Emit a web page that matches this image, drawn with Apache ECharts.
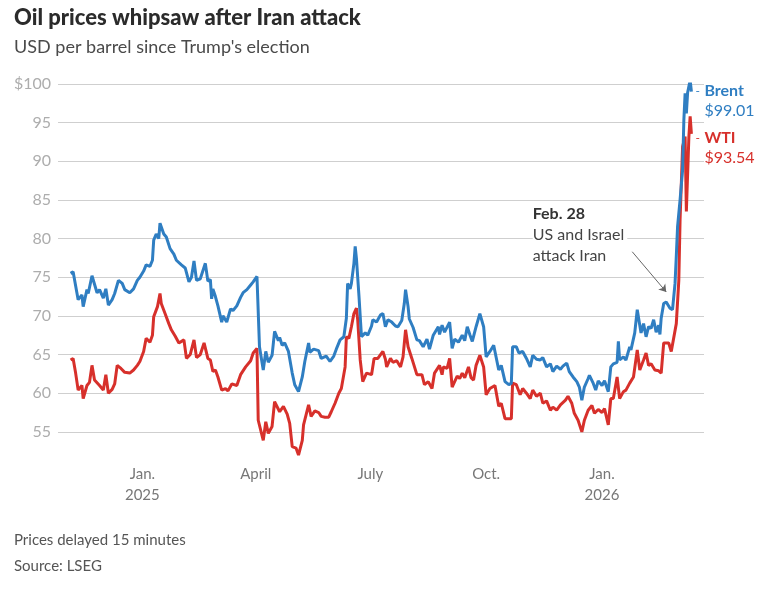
<!DOCTYPE html>
<html>
<head>
<meta charset="utf-8">
<script src="https://cdn.jsdelivr.net/npm/echarts@6/dist/echarts.min.js"></script>
<style>
html,body{margin:0;padding:0;background:#fff;}
#chart{width:774px;height:589px;}
</style>
</head>
<body>
<div id="chart"></div>
<script>
// ---- Data ----
const brentDates = ['2024-11-05','2024-11-07','2024-11-10','2024-11-11','2024-11-14','2024-11-15','2024-11-18','2024-11-19','2024-11-22','2024-11-26','2024-11-28','2024-12-01','2024-12-03','2024-12-05','2024-12-08','2024-12-10','2024-12-13','2024-12-16','2024-12-18','2024-12-22','2024-12-25','2024-12-28','2024-12-30',
'2025-01-02','2025-01-04','2025-01-07','2025-01-09','2025-01-10','2025-01-12','2025-01-14','2025-01-15','2025-01-18','2025-01-20','2025-01-23','2025-01-26','2025-01-28','2025-02-01','2025-02-04','2025-02-07','2025-02-09','2025-02-11','2025-02-13','2025-02-16','2025-02-20','2025-02-22','2025-02-24','2025-02-25','2025-02-26','2025-02-28',
'2025-03-02','2025-03-05','2025-03-06','2025-03-09','2025-03-12','2025-03-14','2025-03-17','2025-03-20','2025-03-22','2025-03-25','2025-03-28','2025-03-30','2025-04-02','2025-04-04','2025-04-07','2025-04-09','2025-04-11','2025-04-14','2025-04-16','2025-04-19','2025-04-20','2025-04-22','2025-04-24','2025-04-27','2025-04-30',
'2025-05-02','2025-05-05','2025-05-08','2025-05-10','2025-05-13','2025-05-14','2025-05-17','2025-05-21','2025-05-23','2025-05-27','2025-05-30','2025-06-02','2025-06-04','2025-06-07','2025-06-10','2025-06-12','2025-06-13','2025-06-15','2025-06-16','2025-06-18','2025-06-19','2025-06-20','2025-06-22','2025-06-24','2025-06-27','2025-06-29',
'2025-07-02','2025-07-03','2025-07-06','2025-07-09','2025-07-11','2025-07-13','2025-07-15','2025-07-18','2025-07-21','2025-07-23','2025-07-26','2025-07-28','2025-07-29','2025-07-31','2025-08-01','2025-08-04','2025-08-07','2025-08-09','2025-08-12','2025-08-15','2025-08-17','2025-08-20','2025-08-24','2025-08-25','2025-08-27','2025-08-29',
'2025-09-02','2025-09-04','2025-09-06','2025-09-09','2025-09-12','2025-09-14','2025-09-16','2025-09-18','2025-09-20','2025-09-23','2025-09-26','2025-09-29','2025-10-01','2025-10-04','2025-10-07','2025-10-08','2025-10-11','2025-10-13','2025-10-16','2025-10-19','2025-10-21','2025-10-22','2025-10-25','2025-10-27','2025-10-30',
'2025-11-02','2025-11-05','2025-11-07','2025-11-10','2025-11-13','2025-11-15','2025-11-18','2025-11-21','2025-11-23','2025-11-26','2025-11-29','2025-12-01','2025-12-04','2025-12-06','2025-12-09','2025-12-12','2025-12-14','2025-12-16','2025-12-18','2025-12-21','2025-12-22','2025-12-25','2025-12-27','2025-12-29',
'2026-01-01','2026-01-03','2026-01-06','2026-01-08','2026-01-10','2026-01-13','2026-01-14','2026-01-15','2026-01-18','2026-01-20','2026-01-23','2026-01-24','2026-01-27','2026-01-29','2026-01-30','2026-02-01','2026-02-03','2026-02-05','2026-02-07','2026-02-09','2026-02-11','2026-02-13','2026-02-15','2026-02-16','2026-02-17','2026-02-19','2026-02-21','2026-02-24','2026-02-26','2026-02-28',
'2026-03-01','2026-03-02','2026-03-04','2026-03-06','2026-03-07','2026-03-08','2026-03-09','2026-03-10','2026-03-12','2026-03-13'];
const brentValues = [75.5,75.7,73.0,72.1,72.7,71.2,73.4,72.9,75.2,73.0,73.4,72.3,73.5,71.4,72.1,72.9,74.6,74.2,73.4,73.0,73.5,74.6,75.0,
75.8,76.6,76.4,77.2,79.8,80.6,80.0,82.0,80.6,80.2,78.7,78.0,77.2,76.6,76.2,74.4,75.0,77.1,74.6,74.8,76.8,74.5,74.7,72.2,73.5,72.5,
71.3,69.2,70.0,69.2,70.9,70.7,71.3,72.4,73.0,73.4,74.0,74.4,75.1,66.0,63.0,65.4,64.0,64.9,68.0,66.8,67.2,66.2,66.5,65.4,62.6,
61.1,60.2,62.1,64.1,66.5,65.3,65.7,65.5,64.5,64.8,64.1,64.8,65.7,66.9,67.3,69.7,74.2,73.5,74.2,76.8,79.0,77.4,72.6,67.3,67.8,67.5,
68.7,69.5,69.2,70.1,70.3,68.6,69.5,69.2,68.7,68.6,69.4,71.6,73.4,71.2,69.6,68.5,66.9,66.8,66.0,67.0,65.7,67.5,68.6,67.6,68.8,67.9,
69.2,65.8,67.0,66.6,67.5,66.8,68.6,67.6,66.7,68.6,70.3,68.6,64.7,65.4,66.2,65.4,63.0,63.6,61.5,61.1,61.3,66.0,66.0,65.2,65.4,
64.5,63.4,64.9,64.4,64.3,64.6,63.4,63.8,62.8,63.5,63.1,63.5,63.9,62.8,62.1,61.5,60.8,59.1,60.8,61.9,62.3,61.3,60.4,61.6,
61.0,61.6,60.2,63.4,63.8,64.0,66.7,64.3,64.7,64.3,66.0,65.6,67.8,70.8,70.6,67.8,69.0,67.3,68.6,68.4,69.5,67.9,68.8,67.6,69.7,71.6,71.8,71.0,70.8,74.2,
77.7,81.5,85.0,88.9,95.3,98.8,96.2,98.9,100.5,99.01];

const wtiDates = ['2024-11-05','2024-11-07','2024-11-09','2024-11-11','2024-11-14','2024-11-15','2024-11-18','2024-11-20','2024-11-22','2024-11-24','2024-11-28','2024-12-01','2024-12-03','2024-12-05','2024-12-08','2024-12-10','2024-12-12','2024-12-15','2024-12-18','2024-12-22','2024-12-25','2024-12-28','2024-12-30',
'2025-01-02','2025-01-04','2025-01-07','2025-01-09','2025-01-10','2025-01-13','2025-01-15','2025-01-16','2025-01-19','2025-01-22','2025-01-24','2025-01-27','2025-01-30','2025-02-03','2025-02-05','2025-02-08','2025-02-11','2025-02-13','2025-02-16','2025-02-19','2025-02-22','2025-02-24','2025-02-26','2025-02-28',
'2025-03-02','2025-03-05','2025-03-08','2025-03-10','2025-03-13','2025-03-17','2025-03-20','2025-03-24','2025-03-28','2025-03-30','2025-04-02','2025-04-03','2025-04-07','2025-04-09','2025-04-11','2025-04-14','2025-04-16','2025-04-20','2025-04-23','2025-04-26','2025-04-28','2025-04-30',
'2025-05-03','2025-05-05','2025-05-08','2025-05-09','2025-05-13','2025-05-15','2025-05-18','2025-05-21','2025-05-23','2025-05-26','2025-05-29','2025-05-31','2025-06-03','2025-06-06','2025-06-08','2025-06-11','2025-06-12','2025-06-14','2025-06-16','2025-06-18','2025-06-20','2025-06-21','2025-06-23','2025-06-25','2025-06-28',
'2025-07-02','2025-07-04','2025-07-07','2025-07-11','2025-07-13','2025-07-14','2025-07-17','2025-07-19','2025-07-22','2025-07-25','2025-07-27','2025-07-29','2025-07-31','2025-08-03','2025-08-07','2025-08-11','2025-08-13','2025-08-16','2025-08-19','2025-08-21','2025-08-25','2025-08-27','2025-08-28','2025-08-31',
'2025-09-02','2025-09-04','2025-09-08','2025-09-10','2025-09-12','2025-09-14','2025-09-17','2025-09-19','2025-09-21','2025-09-23','2025-09-26','2025-09-29','2025-10-01','2025-10-04','2025-10-08','2025-10-11','2025-10-13','2025-10-16','2025-10-21','2025-10-22','2025-10-25','2025-10-28','2025-10-30',
'2025-11-02','2025-11-05','2025-11-07','2025-11-10','2025-11-13','2025-11-15','2025-11-18','2025-11-21','2025-11-23','2025-11-26','2025-11-29','2025-12-03','2025-12-05','2025-12-08','2025-12-10','2025-12-13','2025-12-16','2025-12-18','2025-12-21','2025-12-24','2025-12-26','2025-12-29',
'2026-01-01','2026-01-03','2026-01-06','2026-01-08','2026-01-10','2026-01-13','2026-01-15','2026-01-18','2026-01-20','2026-01-23','2026-01-26','2026-01-29','2026-01-31','2026-02-03','2026-02-05','2026-02-07','2026-02-09','2026-02-12','2026-02-15','2026-02-17','2026-02-19','2026-02-23','2026-02-25','2026-02-26',
'2026-03-01','2026-03-03','2026-03-04','2026-03-06','2026-03-08','2026-03-09','2026-03-11','2026-03-12','2026-03-13'];
const wtiValues = [64.3,64.5,62.6,60.4,61.0,59.3,61.0,61.4,63.6,61.7,61.0,60.4,62.4,60.0,60.5,61.2,63.6,63.2,62.7,62.6,63.0,63.6,64.1,
65.4,67.1,66.6,67.5,69.9,71.2,72.9,71.6,70.3,69.0,68.2,67.4,66.5,66.9,64.5,65.0,66.9,64.6,65.0,66.5,64.5,64.3,62.8,63.0,
62.1,60.4,60.6,60.3,61.2,61.0,62.4,63.4,64.2,65.2,65.8,56.5,53.9,56.3,54.8,55.7,58.9,57.6,58.3,57.3,56.1,53.1,
52.9,52.0,53.9,55.9,58.5,57.0,57.7,57.5,57.0,56.9,56.9,57.6,58.7,60.0,60.6,63.4,67.3,67.1,68.6,70.3,71.0,69.5,64.3,61.5,62.6,
62.4,64.5,64.5,65.4,64.4,63.4,64.5,64.0,64.2,63.4,64.7,68.2,66.0,64.5,62.4,62.4,61.1,61.5,60.6,62.6,63.6,62.4,63.4,63.2,
64.5,60.8,62.2,61.9,62.6,62.0,63.4,62.0,61.7,63.6,64.9,63.4,59.8,60.6,61.0,58.3,58.7,56.7,56.7,61.3,61.1,59.8,60.6,
60.0,59.3,60.4,59.6,60.0,58.7,59.0,57.8,58.2,57.8,58.5,59.1,59.6,58.7,57.4,56.5,55.0,56.5,57.8,58.4,57.4,57.9,
57.5,58.0,55.9,59.3,59.3,62.1,59.3,60.2,60.4,61.3,62.1,65.6,63.0,64.3,65.2,63.6,63.8,63.0,62.9,62.6,66.5,66.5,65.4,65.3,
69.0,74.6,82.4,91.9,93.2,83.5,93.2,95.8,93.54];

const yTicks = [50, 100, 5];              // min, max, step
const xTickDates = ['2025-01-01','2025-04-01','2025-07-01','2025-10-01','2026-01-01'];
const xTickLabels = ['Jan.\n2025','April','July','Oct.','Jan.\n2026'];
const xRange = ['2024-10-26','2026-03-23'];
const annotation = {date:'2025-11-07', value:84.55, title:'Feb. 28', text:['US and Israel','attack Iran']};
const arrowFrom = ['2026-01-25', 78.3];
const arrowTo = ['2026-02-21', 73.1];

const BLUE = '#2f7ec2', RED = '#d7302b';

function toTs(s){ const p=s.split('-').map(Number); return new Date(p[0],p[1]-1,p[2]).getTime(); }
function zip(d,v){ return d.map((x,i)=>[toTs(x), v[i]]); }
const tickTs = xTickDates.map(toTs);

const chart = echarts.init(document.getElementById('chart'), null, {renderer:'canvas'});
const FONT = 'Lato';

function endLab(name, color, offY){
  return {
    show:true, distance:4, offset:[0,offY],
    formatter: p => '{d|-}{n|' + name + '}\n{e|}{v|$' + p.value[1].toFixed(2) + '}',
    rich:{
      d:{color:color, fontSize:12, width:9, fontFamily:FONT},
      n:{color:color, fontSize:16, fontWeight:'bold', fontFamily:FONT, lineHeight:20},
      e:{width:9},
      v:{color:color, fontSize:16, fontFamily:FONT, lineHeight:20}
    }
  };
}

const tStyle = (size, weight, color) => ({fontFamily:FONT, fontWeight:weight, fontSize:size, color:color});

chart.setOption({
  animation:false,
  textStyle:{fontFamily:FONT},
  title:[
    {text:'Oil prices whipsaw after Iran attack', left:14, top:7, padding:0, textStyle:tStyle(22,900,'#2b2b2b')},
    {text:"USD per barrel since Trump's election", left:14, top:38, padding:0, textStyle:tStyle(18,'normal','#4a4a4a')},
    {text:'Prices delayed 15 minutes', left:14, top:533, padding:0, textStyle:tStyle(15,'normal','#555')},
    {text:'Source: LSEG', left:14, top:559, padding:0, textStyle:tStyle(15,'normal','#555')}
  ],
  grid:{left:58, right:70, top:84, bottom:118.5, containLabel:false},
  xAxis:{
    type:'value', min:toTs(xRange[0]), max:toTs(xRange[1]),
    axisLine:{show:false}, axisTick:{show:false}, splitLine:{show:false},
    axisLabel:{
      customValues: tickTs, margin:-7, color:'#777', fontSize:15, lineHeight:21, fontFamily:FONT,
      formatter: v => { const i = tickTs.indexOf(v); return i>=0 ? xTickLabels[i] : ''; }
    }
  },
  yAxis:{
    type:'value', min:yTicks[0], max:yTicks[1], interval:yTicks[2],
    axisLine:{show:false}, axisTick:{show:false},
    axisLabel:{color:'#adadad', fontSize:16, margin:7, fontFamily:FONT,
      formatter: v => v===yTicks[1] ? '$'+v : (v===yTicks[0] ? '' : String(v))},
    splitLine:{lineStyle:{color:['rgba(0,0,0,0)','#cfcfcf','#cfcfcf','#cfcfcf','#cfcfcf','#cfcfcf','#cfcfcf','#cfcfcf','#cfcfcf','#cfcfcf','#cfcfcf'], width:1}}
  },
  series:[
    {
      name:'WTI', type:'line', data:zip(wtiDates, wtiValues), showSymbol:false, symbol:'none',
      lineStyle:{color:RED, width:3}, itemStyle:{color:RED}, z:2,
      endLabel:endLab('WTI', RED, 14),
      markPoint:{
        silent:true, symbol:'circle', symbolSize:0,
        data:[{coord:[toTs(annotation.date), annotation.value],
          label:{show:true, position:[0,0], align:'left', verticalAlign:'top', backgroundColor:'#fff', padding:[0,3,0,0],
            formatter: '{b|'+annotation.title+'}\n' + annotation.text.map(t=>'{t|'+t+'}').join('\n'),
            rich:{
              b:{fontFamily:FONT, fontWeight:'bold', fontSize:16, color:'#333', lineHeight:21},
              t:{fontFamily:FONT, fontSize:16, color:'#444', lineHeight:21}
            }}}]
      }
    },
    {
      name:'Brent', type:'line', data:zip(brentDates, brentValues), showSymbol:false, symbol:'none',
      lineStyle:{color:BLUE, width:3}, itemStyle:{color:BLUE}, z:3,
      endLabel:endLab('Brent', BLUE, 9),
      markLine:{
        silent:true, symbol:['none','arrow'], symbolSize:7, label:{show:false},
        lineStyle:{color:'#666', width:1, type:'solid', curveness:-0.3},
        data:[[{coord:[toTs(arrowFrom[0]), arrowFrom[1]]},{coord:[toTs(arrowTo[0]), arrowTo[1]]}]]
      }
    }
  ]
});
</script>
</body>
</html>
